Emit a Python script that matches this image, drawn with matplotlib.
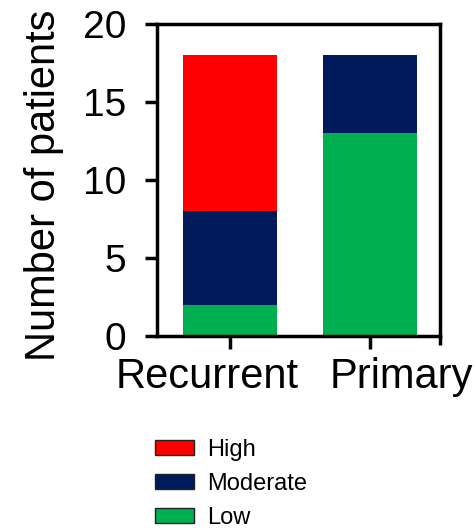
import matplotlib
matplotlib.use("Agg")
import matplotlib.pyplot as plt
import matplotlib.transforms as mtransforms
from matplotlib.patches import Patch
from matplotlib.lines import Line2D

groups = ["Recurrent", "Primary"]
low = [2, 13]
moderate = [6, 5]
high = [10, 0]
levels = ["High", "Moderate", "Low"]
colors = {"High": "#FF0000", "Moderate": "#001A5C", "Low": "#00B050"}
yticks = [0, 5, 10, 15, 20]

plt.rcParams["font.family"] = ["Liberation Sans", "DejaVu Sans"]

fig = plt.figure(figsize=(4.75, 5.31), dpi=100)
W, H = 475, 531
ax = fig.add_axes([157 / W, 1 - 336 / H, (440 - 157) / W, (336 - 24) / H])

x = list(range(len(groups)))
width = 0.67
ax.bar(x, low, width, color=colors["Low"], linewidth=0)
ax.bar(x, moderate, width, bottom=low, color=colors["Moderate"], linewidth=0)
bottom3 = [a + b for a, b in zip(low, moderate)]
ax.bar(x, high, width, bottom=bottom3, color=colors["High"], linewidth=0)

ax.set_xlim(-0.52, 1.5)
ax.set_ylim(0, 20)
ax.set_yticks(yticks)
ax.set_xticks(x)
ax.set_xticklabels(groups, fontsize=30)
ax.tick_params(axis="y", labelsize=28, length=9, width=2.5, pad=13)
ax.tick_params(axis="x", length=9, width=2.5, pad=6)
for s in ax.spines.values():
    s.set_linewidth(2.5)
ax.set_ylabel("Number of patients", fontsize=30)
ax.yaxis.set_label_coords((64 - 157) / 283, (336 - 185) / 312)

# spread the category labels apart so the long names do not collide
shifts_px = [-23, 31]
for lab, dx in zip(ax.get_xticklabels(), shifts_px):
    lab.set_transform(lab.get_transform() +
                      mtransforms.ScaledTranslation(dx / 100, 0, fig.dpi_scale_trans))

# short extension of the right spine below the axis, like an end tick
ax.add_line(Line2D([1.5, 1.5], [0, -0.58], color="black", lw=2.5,
                   clip_on=False, solid_capstyle="butt"))

handles = [Patch(facecolor=colors[k], edgecolor="#222222", linewidth=1) for k in levels]
fig.legend(handles, levels, loc="upper left", bbox_to_anchor=(155 / W, 1 - 439 / H),
           frameon=False, fontsize=17, handlelength=1.65, handleheight=0.6,
           labelspacing=0.5, handletextpad=0.55, borderpad=0, borderaxespad=0)

fig.savefig("out.png", dpi=100)
